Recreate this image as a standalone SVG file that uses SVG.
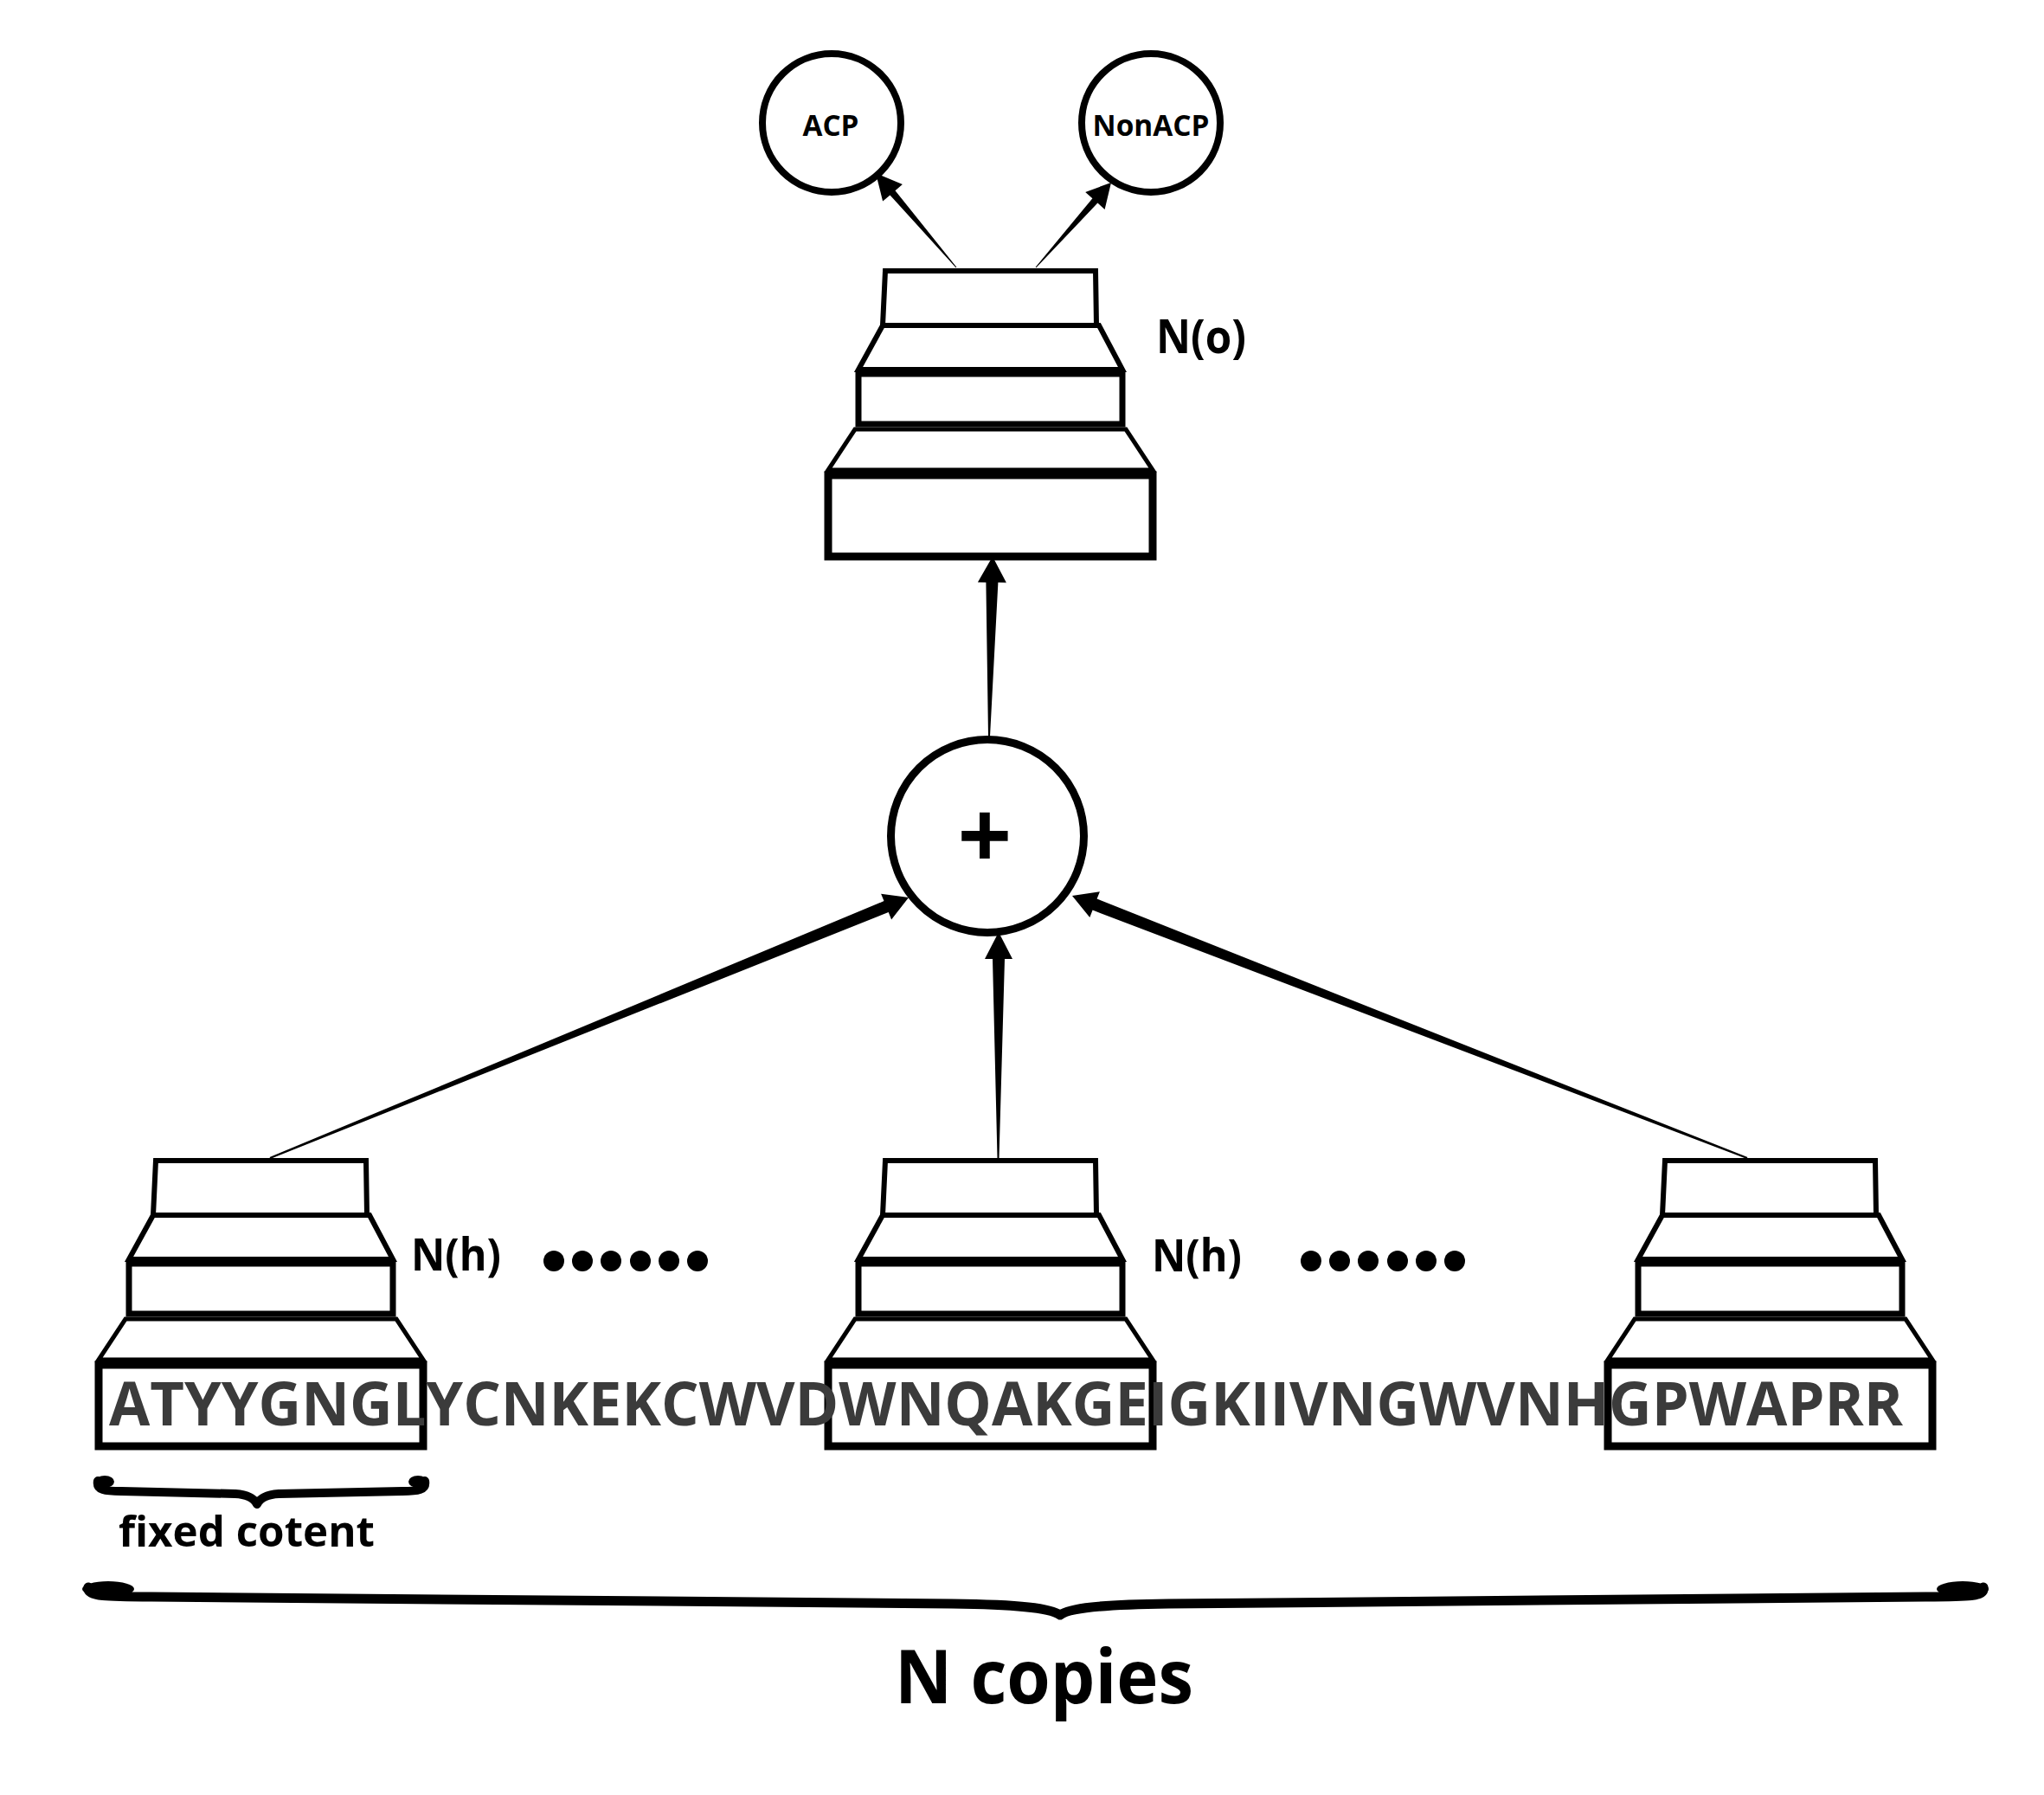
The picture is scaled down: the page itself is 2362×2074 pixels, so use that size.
<svg xmlns="http://www.w3.org/2000/svg" xmlns:xlink="http://www.w3.org/1999/xlink" width="2362" height="2074" viewBox="0 0 2362 2074">
<style>
.sh{fill:#fff;stroke:#000;stroke-linejoin:miter}
.node{fill:#fff;stroke:#000}
.lbl{font-family:"Open Sans","Liberation Sans",sans-serif;font-weight:700;fill:#000}
.seq{font-family:"Open Sans","Liberation Sans",sans-serif;font-weight:700;fill:#3b3b3b}
.arr{fill:#000;stroke:none}
.brace{fill:none;stroke:#000;stroke-linecap:round;stroke-linejoin:round}
</style>
<defs>
<g id="stack">
<polygon class="sh" stroke-width="6" points="66,0 309,0 310,63 63,63"/>
<polygon class="sh" stroke-width="6" points="63,63 313,63 340,114 35,114"/>
<rect class="sh" stroke-width="7" x="35" y="119" width="305" height="58"/>
<polygon class="sh" stroke-width="5" points="31,183 344,183 375,230 0,230"/>
<rect class="sh" stroke-width="9" x="0" y="236" width="375" height="94" fill="none"/>
</g>
</defs>
<rect width="2362" height="2074" fill="#fff"/>

<g id="connectors">
<polygon class="arr" points="1105.4,308.7 1034.5,220.2 1042.9,213.1 1012,200 1020.1,232.5 1028.5,225.4 1104.6,309.3"/>
<polygon class="arr" points="1197.4,309.3 1268.4,234.6 1276.6,241.9 1284,211 1254.2,221.9 1262.4,229.2 1196.6,308.7"/>
<polygon class="arr" points="1144,851 1153.4,673.1 1162.9,673.3 1147,643 1129.9,672.7 1139.4,672.9 1142,851"/>
<polygon class="arr" points="1154.5,1338 1161,1108 1170,1108 1154,1077 1138,1108 1147,1108 1152.5,1338"/>
<polygon class="arr" points="312.4,1338.9 1026.7,1054.1 1030.1,1062.4 1050,1037 1018.1,1032.8 1021.5,1041.1 311.6,1337.1"/>
<polygon class="arr" points="2019.4,1337.1 1267.6,1038.6 1270.9,1030.2 1239,1035 1259.3,1060 1262.6,1051.6 2018.6,1338.9"/>
</g>

<g id="acp">
<circle class="node" cx="961" cy="142" r="80" stroke-width="8"/>
<text class="lbl" x="960" y="157" font-size="34" text-anchor="middle" textLength="65" lengthAdjust="spacingAndGlyphs">ACP</text>
</g>
<g id="nonacp">
<circle class="node" cx="1330" cy="142" r="80" stroke-width="8"/>
<text class="lbl" x="1330" y="157" font-size="34" text-anchor="middle" textLength="135" lengthAdjust="spacingAndGlyphs">NonACP</text>
</g>

<g id="output-stack">
<use xlink:href="#stack" href="#stack" transform="translate(957,313)"/>
<text class="lbl" x="1336" y="408" font-size="53" textLength="104" lengthAdjust="spacingAndGlyphs">N(o)</text>
</g>

<g id="sum">
<circle class="node" cx="1141" cy="966" r="111.5" stroke-width="9"/>
<text class="lbl" x="1138" y="1004" font-size="110" text-anchor="middle">+</text>
</g>

<g id="stack-1">
<use xlink:href="#stack" href="#stack" transform="translate(114,1341)"/>
<text class="lbl" x="475" y="1468" font-size="52" textLength="104" lengthAdjust="spacingAndGlyphs">N(h)</text>
</g>
<g id="stack-2">
<use xlink:href="#stack" href="#stack" transform="translate(957,1341)"/>
<text class="lbl" x="1331" y="1469" font-size="52" textLength="104" lengthAdjust="spacingAndGlyphs">N(h)</text>
</g>
<g id="stack-3">
<use xlink:href="#stack" href="#stack" transform="translate(1858,1341)"/>
</g>

<g id="dots">
<circle cx="640" cy="1457" r="12"/><circle cx="673" cy="1457" r="12"/><circle cx="706" cy="1457" r="12"/><circle cx="740" cy="1457" r="12"/><circle cx="773" cy="1457" r="12"/><circle cx="806" cy="1457" r="12"/>
<circle cx="1515" cy="1457" r="12"/><circle cx="1548" cy="1457" r="12"/><circle cx="1581" cy="1457" r="12"/><circle cx="1615" cy="1457" r="12"/><circle cx="1648" cy="1457" r="12"/><circle cx="1681" cy="1457" r="12"/>
</g>

<g id="sequence">
<text class="seq" x="126" y="1647" font-size="70" textLength="2073" lengthAdjust="spacingAndGlyphs">ATYYGNGLYCNKEKCWVDWNQAKGEIGKIIVNGWVNHGPWAPRR</text>
</g>

<g id="fixed-brace">
<path class="brace" stroke-width="10" d="M113,1711 C111,1722 122,1723 140,1723 L272,1726 C288,1727 294,1732 297,1738 C300,1732 306,1727 322,1726 L465,1723 C482,1723 493,1722 491,1711"/>
<ellipse cx="121" cy="1712" rx="11" ry="7"/>
<ellipse cx="483" cy="1712" rx="11" ry="7"/>
<text class="lbl" x="137" y="1787" font-size="48" textLength="296" lengthAdjust="spacingAndGlyphs">fixed cotent</text>
</g>

<g id="copies-brace">
<path class="brace" stroke-width="11" d="M102,1834 C100,1845 125,1845 175,1845 L1100,1853 C1180,1854 1214,1858 1225,1866 C1236,1858 1270,1854 1350,1853 L2225,1845 C2275,1845 2294,1845 2292,1834"/>
<ellipse cx="125" cy="1836" rx="30" ry="9"/>
<ellipse cx="2268" cy="1836" rx="30" ry="9"/>
<text class="lbl" x="1034" y="1968" font-size="86" textLength="345" lengthAdjust="spacingAndGlyphs">N copies</text>
</g>
</svg>
